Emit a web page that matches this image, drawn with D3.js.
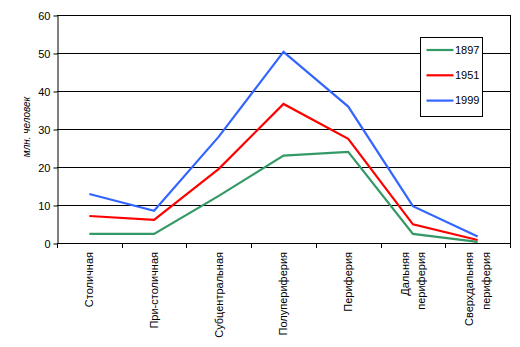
<!DOCTYPE html>
<html>
<head>
<meta charset="utf-8">
<script src="https://cdn.jsdelivr.net/npm/d3@7"></script>
<style>
  html, body { margin: 0; padding: 0; background: #fff; }
  svg text { font-family: "Liberation Sans", Arial, sans-serif; fill: #000; }
</style>
</head>
<body>
<svg id="chart" width="520" height="347"></svg>
<script>
// Zones, from the capital outward
const categories = [
  ["Столичная"],
  ["При-столичная"],
  ["Субцентральная"],
  ["Полупериферия"],
  ["Периферия"],
  ["Дальняя", "периферия"],
  ["Сверхдальняя", "периферия"]
];
const years = ["1897", "1951", "1999"];
const values1897 = [2.4, 2.4, 12.4, 23.0, 24.0, 2.4, 0.3];
const values1951 = [7.1, 6.1, 19.5, 36.6, 27.4, 4.9, 0.8];
const values1999 = [12.9, 8.5, 28.0, 50.3, 35.9, 9.7, 1.7];
const yTicks = [0, 10, 20, 30, 40, 50, 60];
const colors = ["#339966", "#ff0000", "#3366ff"];

const series = [values1897, values1951, values1999].map((v, i) => ({
  name: years[i], values: v, color: colors[i]
}));

const svg = d3.select("#chart");
const plotLeft = 57, plotRight = 510, plotTop = 15, plotBottom = 243;

const x = d3.scaleBand()
  .domain(d3.range(categories.length))
  .range([plotLeft, plotRight]);
const y = d3.scaleLinear().domain([0, 60]).range([plotBottom, plotTop]);

// horizontal gridlines
svg.append("g")
  .selectAll("line")
  .data(yTicks.filter(t => t > 0))
  .join("line")
  .attr("x1", plotLeft).attr("x2", plotRight)
  .attr("y1", d => y(d) + 0.5).attr("y2", d => y(d) + 0.5)
  .attr("stroke", "#000").attr("stroke-width", 1);

// right border of the plot area
svg.append("line")
  .attr("x1", plotRight + 0.5).attr("x2", plotRight + 0.5)
  .attr("y1", plotTop).attr("y2", plotBottom)
  .attr("stroke", "#000");

// y axis
const yAxis = svg.append("g")
  .attr("transform", `translate(${plotLeft + 0.5},0.5)`)
  .call(d3.axisLeft(y).tickValues(yTicks).tickSize(4).tickSizeOuter(0));
yAxis.select(".domain").attr("stroke", "#000");
yAxis.selectAll(".tick line").attr("stroke", "#000");
yAxis.selectAll("text")
  .attr("x", -7)
  .attr("font-size", 11)
  .attr("font-family", "Liberation Sans, Arial, sans-serif");

// x axis: ticks at band boundaries
const bounds = d3.range(categories.length + 1).map(i => plotLeft + i * x.bandwidth());
svg.append("line")
  .attr("x1", plotLeft).attr("x2", plotRight + 1)
  .attr("y1", plotBottom + 0.5).attr("y2", plotBottom + 0.5)
  .attr("stroke", "#000");
svg.append("g")
  .selectAll("line")
  .data(bounds)
  .join("line")
  .attr("x1", d => Math.round(d) + 0.5).attr("x2", d => Math.round(d) + 0.5)
  .attr("y1", plotBottom).attr("y2", plotBottom + 5)
  .attr("stroke", "#000");

// category labels, rotated
const labels = svg.append("g")
  .selectAll("text")
  .data(categories)
  .join("text")
  .attr("transform", (d, i) => `translate(${x(i) + x.bandwidth() / 2},252) rotate(-90)`)
  .attr("text-anchor", "end")
  .attr("font-size", 11);
labels.each(function(lines) {
  const n = lines.length;
  const lh = 16.5;
  d3.select(this).selectAll("tspan")
    .data(lines)
    .join("tspan")
    .attr("x", 0)
    .attr("y", (l, j) => (j - (n - 1) / 2) * lh)
    .attr("dy", "0.35em")
    .text(l => l);
});

// y axis title
svg.append("text")
  .attr("transform", "translate(30,127) rotate(-90)")
  .attr("text-anchor", "middle")
  .attr("font-size", 10)
  .attr("font-style", "italic")
  .text("млн. человек");

// series lines
const line = d3.line()
  .x((d, i) => x(i) + x.bandwidth() / 2)
  .y(d => y(d));
svg.append("g")
  .selectAll("path")
  .data(series)
  .join("path")
  .attr("d", d => line(d.values))
  .attr("fill", "none")
  .attr("stroke", d => d.color)
  .attr("stroke-width", 2.2)
  .attr("stroke-linejoin", "miter");

// legend
const lg = svg.append("g").attr("transform", "translate(420.5,37.5)");
lg.append("rect")
  .attr("width", 62).attr("height", 79)
  .attr("fill", "#fff").attr("stroke", "#000");
const items = lg.selectAll("g.item")
  .data(series)
  .join("g")
  .attr("class", "item")
  .attr("transform", (d, i) => `translate(0,${12.5 + i * 25.3})`);
items.append("line")
  .attr("x1", 6).attr("x2", 33)
  .attr("stroke", d => d.color).attr("stroke-width", 2.2);
items.append("text")
  .attr("x", 34.5).attr("dy", "0.35em")
  .attr("font-size", 11)
  .text(d => d.name);
</script>
</body>
</html>
